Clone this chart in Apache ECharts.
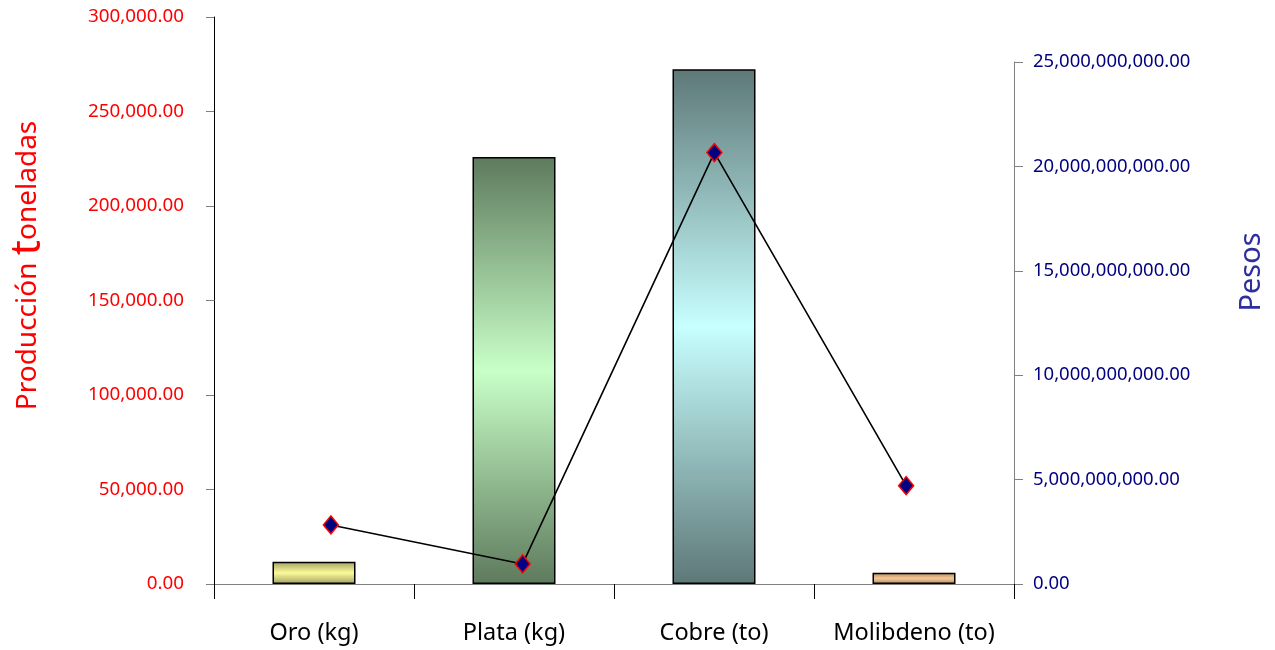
<!DOCTYPE html>
<html><head><meta charset="utf-8">
<script src="https://cdn.jsdelivr.net/npm/echarts@6/dist/echarts.min.js"></script>
<style>html,body{margin:0;padding:0;background:#fff}#c{width:1275px;height:650px}</style>
</head><body><div id="c"></div>
<script>
const categories = ['Oro (kg)', 'Plata (kg)', 'Cobre (to)', 'Molibdeno (to)'];
const produccion = [11800, 225900, 272300, 6000];
const pesos = [2830000000, 960000000, 20660000000, 4710000000];
const leftTicks = [0, 300000, 50000];
const rightTicks = [0, 25000000000, 5000000000];

const FONT = 'Noto Sans';
const fmt = v => v.toLocaleString('en-US', {minimumFractionDigits: 2, maximumFractionDigits: 2});
function grad(edge, mid) {
  return {type: 'linear', x: 0, y: 0, x2: 0, y2: 1, colorStops: [
    {offset: 0, color: edge}, {offset: 0.5, color: mid}, {offset: 1, color: edge}]};
}
const fills = [grad('#a3a060', '#fbfb9a'), grad('#5e7a5c', '#c8ffc8'), grad('#5e7878', '#c8ffff'), grad('#b08a60', '#f4c896')];

const chart = echarts.init(document.getElementById('c'));
chart.setOption({
  animation: false,
  textStyle: {fontFamily: FONT},
  grid: [
    {left: 214, right: 261, top: 17, bottom: 66, containLabel: false, outerBoundsMode: 'none'},
    {left: 235, right: 273, top: 62, bottom: 66, containLabel: false, outerBoundsMode: 'none'}
  ],
  graphic: [
    {type: 'text', x: 1252, y: 272, rotation: Math.PI / 2,
     style: {text: 'Pesos', align: 'center', verticalAlign: 'middle', fontSize: 29, fill: '#2e2e9e', fontFamily: FONT}}
  ],
  xAxis: [
    {type: 'category', gridIndex: 0, data: categories, boundaryGap: true,
     axisLine: {lineStyle: {color: '#808080', width: 1}},
     axisTick: {show: true, length: 15, lineStyle: {color: '#000'}},
     axisLabel: {color: '#000', fontSize: 23.5, margin: 37, interval: 0, fontFamily: FONT}},
    {type: 'category', gridIndex: 1, data: categories, boundaryGap: true, show: false}
  ],
  yAxis: [
    {type: 'value', gridIndex: 0, position: 'left', min: leftTicks[0], max: leftTicks[1], interval: leftTicks[2],
     splitLine: {show: false},
     axisLine: {show: true, lineStyle: {color: '#000'}},
     axisTick: {show: true, length: 8, lineStyle: {color: '#808080'}},
     axisLabel: {color: '#ff0000', fontSize: 18.8, margin: 30, formatter: fmt, fontFamily: FONT},
     name: '{a|Producción }{b|t}{a|oneladas}', nameLocation: 'middle', nameGap: 165, nameRotate: 90,
     nameTextStyle: {padding: [0, 0, 0, 70],
       rich: {a: {fontSize: 28, color: '#ff0000', fontFamily: FONT}, b: {fontSize: 42, color: '#ff0000', fontFamily: FONT}}}},
    {type: 'value', gridIndex: 1, position: 'right', offset: 12, min: rightTicks[0], max: rightTicks[1], interval: rightTicks[2],
     splitLine: {show: false},
     axisLine: {show: true, lineStyle: {color: '#808080'}},
     axisTick: {show: true, length: 9, lineStyle: {color: '#808080'}},
     axisLabel: {color: '#000080', fontSize: 18.5, margin: 19, formatter: fmt, fontFamily: FONT}}
  ],
  series: [
    {type: 'bar', xAxisIndex: 0, yAxisIndex: 0, barWidth: '41.5%',
     data: produccion.map((v, i) => ({value: v, itemStyle: {color: fills[i]}})),
     itemStyle: {borderColor: '#000', borderWidth: 1.5}},
    {type: 'line', xAxisIndex: 1, yAxisIndex: 1, data: pesos,
     lineStyle: {color: '#000', width: 1.6},
     symbol: 'diamond', symbolSize: [15, 18],
     itemStyle: {color: '#000080', borderColor: '#ff0000', borderWidth: 1.5}}
  ]
});
</script></body></html>
